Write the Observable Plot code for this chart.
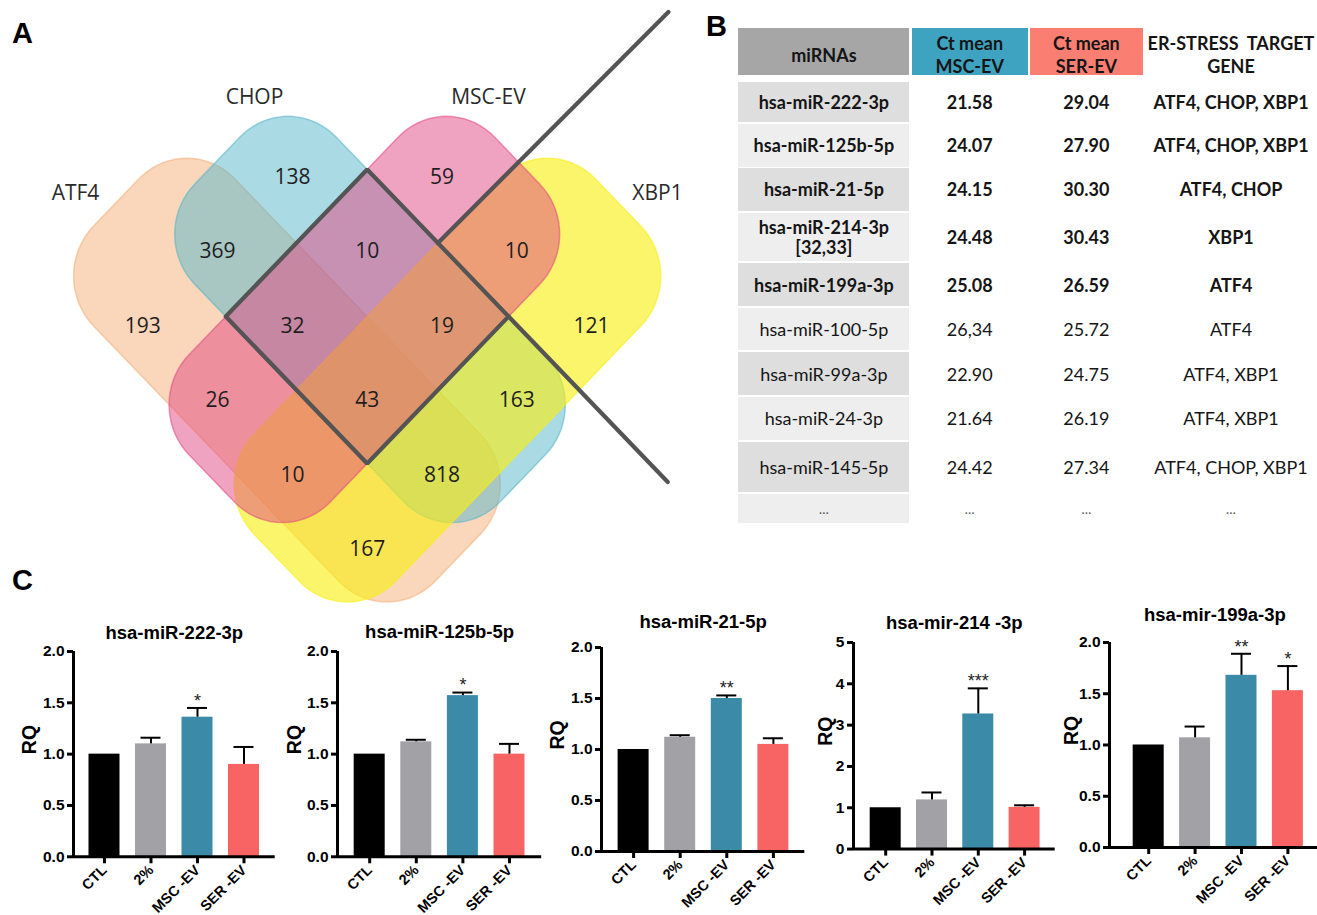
<!DOCTYPE html>
<html><head><meta charset="utf-8">
<script src="https://cdn.jsdelivr.net/npm/d3@7"></script>
<script src="https://cdn.jsdelivr.net/npm/@observablehq/plot@0.6"></script>
<style>
html,body{margin:0;padding:0;background:#fff;}
#page{position:relative;width:1317px;height:915px;overflow:hidden;background:#fff;}
.cell{position:absolute;display:flex;align-items:center;justify-content:center;text-align:center;font-family:Lato,"Open Sans",sans-serif;font-size:18px;color:#151515;box-sizing:border-box;white-space:pre;}
</style></head><body><div id="page"></div>
<script>
// ---------------- DATA ----------------
// Panel A: Venn
const vennSets = ["ATF4", "CHOP", "MSC-EV", "XBP1"];
const vennCounts = [138, 59, 369, 10, 10, 193, 32, 19, 121, 26, 43, 163, 10, 818, 167];

// Panel B: table
const headerLabels = ["miRNAs", "Ct mean\nMSC-EV", "Ct mean\nSER-EV", "ER-STRESS  TARGET\nGENE"];
const miRNAs = ["hsa-miR-222-3p", "hsa-miR-125b-5p", "hsa-miR-21-5p", "hsa-miR-214-3p\n[32,33]", "hsa-miR-199a-3p",
  "hsa-miR-100-5p", "hsa-miR-99a-3p", "hsa-miR-24-3p", "hsa-miR-145-5p", "…"];
const ctMSC = ["21.58", "24.07", "24.15", "24.48", "25.08", "26,34", "22.90", "21.64", "24.42", "…"];
const ctSER = ["29.04", "27.90", "30.30", "30.43", "26.59", "25.72", "24.75", "26.19", "27.34", "…"];
const targetGenes = ["ATF4, CHOP, XBP1", "ATF4, CHOP, XBP1", "ATF4, CHOP", "XBP1", "ATF4",
  "ATF4", "ATF4, XBP1", "ATF4, XBP1", "ATF4, CHOP, XBP1", "…"];
const boldRows = [true, true, true, true, true, false, false, false, false, false];

// Panel C: bar charts
const groups = ["CTL", "2%", "MSC -EV", "SER -EV"];
const chartTitles = ["hsa-miR-222-3p", "hsa-miR-125b-5p", "hsa-miR-21-5p", "hsa-mir-214 -3p", "hsa-mir-199a-3p"];
const rqMean = [
  [1.00, 1.10, 1.36, 0.90],
  [1.00, 1.12, 1.57, 1.00],
  [1.00, 1.12, 1.50, 1.05],
  [1.00, 1.19, 3.27, 1.01],
  [1.00, 1.07, 1.68, 1.53]
];
const rqSEM = [
  [0, 0.06, 0.09, 0.17],
  [0, 0.02, 0.03, 0.10],
  [0, 0.02, 0.03, 0.06],
  [0, 0.18, 0.62, 0.05],
  [0, 0.11, 0.21, 0.24]
];
const sigMarks = [
  ["", "", "*", ""],
  ["", "", "*", ""],
  ["", "", "**", ""],
  ["", "", "***", ""],
  ["", "", "**", "*"]
];
const yTicks = [[0, 0.5, 1, 1.5, 2], [0, 0.5, 1, 1.5, 2], [0, 0.5, 1, 1.5, 2], [0, 1, 2, 3, 4, 5], [0, 0.5, 1, 1.5, 2]];
const yMax = [2, 2, 2, 5, 2];

// ---------------- LAYOUT / STYLE ----------------
const page = document.getElementById("page");
const place = (el, left, top) => { el.style.position = "absolute"; el.style.left = left + "px"; el.style.top = top + "px"; page.appendChild(el); };

// Venn geometry (rotated frame u: down-right, v: up-right)
const SQ = Math.SQRT2, CX = 366.7, CY = 316, KY = 1.04;
const toPx = (u, v) => ({x: CX + (u + v) / SQ, y: CY + (u - v) / SQ * KY});
function roundRect(u0, u1, v0, v1, r) {
  const pts = [];
  const cs = [[u1 - r, v0 + r, -90], [u1 - r, v1 - r, 0], [u0 + r, v1 - r, 90], [u0 + r, v0 + r, 180]];
  for (const [cu, cv, a0] of cs) for (let k = 0; k <= 18; k++) {
    const a = (a0 + 90 * k / 18) * Math.PI / 180;
    pts.push(toPx(cu + r * Math.cos(a), cv + r * Math.sin(a)));
  }
  pts.push(pts[0]);
  return pts;
}
const shapeSpec = {
  "ATF4":   {u: [-255, 228], v: [-200, 0], color: "#f5ad75", op: 0.5},
  "CHOP":   {u: [-212, 220], v: [-100, 100], color: "#55b5c9", op: 0.5},
  "MSC-EV": {u: [-100, 100], v: [-220, 212], color: "#e14781", op: 0.5},
  "XBP1":   {u: [0, 200], v: [-228, 255], color: "#f8ef12", op: 0.62}
};
const drawOrder = ["ATF4", "CHOP", "XBP1", "MSC-EV"];
const cornerR = 68;
const vennGrid = [[-1,-2],[1,-2],[-2,-1],[0,-1],[2,-1],[-3,0],[-1,0],[1,0],[3,0],[-2,1],[0,1],[2,1],[-1,2],[1,2],[0,3]];
const gridOrigin = [366.7, 325.3], gridStep = [74.8, 74.5];
const vennLabelPos = [[75, 193], [254, 97], [488, 97], [657, 193]];

const vennMarks = [];
for (const s of drawOrder) {
  const sp = shapeSpec[s];
  vennMarks.push(Plot.line(roundRect(sp.u[0], sp.u[1], sp.v[0], sp.v[1], cornerR), {
    x: "x", y: "y", fill: sp.color, fillOpacity: sp.op, stroke: sp.color, strokeOpacity: 0.55, strokeWidth: 1.5
  }));
}
const diamond = [[-100,-100],[100,-100],[100,100],[-100,100],[-100,-100]].map(([u, v]) => toPx(u, v));
const cut1 = [[0, 100], [6, 420]].map(([u, v]) => toPx(u, v));
const cut2 = [[100, 100], [325, 100]].map(([u, v]) => toPx(u, v));
for (const p of [diamond, cut1, cut2]) vennMarks.push(Plot.line(p, {x: "x", y: "y", stroke: "#545454", strokeWidth: 4.2, strokeLinejoin: "miter"}));
const numRows = vennCounts.map((c, k) => ({x: gridOrigin[0] + gridStep[0] * vennGrid[k][0], y: gridOrigin[1] + gridStep[1] * vennGrid[k][1], t: String(c)}));
vennMarks.push(Plot.text(numRows, {x: "x", y: "y", text: "t", fontSize: 21, fontFamily: "Open Sans", fill: "#1e1e1e"}));
const labRows = vennSets.map((s, k) => ({x: vennLabelPos[k][0], y: vennLabelPos[k][1], t: s}));
vennMarks.push(Plot.text(labRows, {x: "x", y: "y", text: "t", fontSize: 21, fontFamily: "Open Sans", fill: "#2a2a2a"}));

const venn = Plot.plot({
  width: 700, height: 615, margin: 0,
  x: {domain: [0, 700], range: [0, 700], axis: null},
  y: {domain: [0, 615], range: [0, 615], axis: null},
  style: {background: "transparent", overflow: "visible"},
  marks: vennMarks
});
place(venn, 0, 0);

// ---------------- TABLE ----------------
const colX = [[738.3, 909.5], [911.5, 1028], [1030, 1142.7], [1145, 1317]];
const headerBg = ["#a6a6a6", "#3ea3c0", "#fa7f72", "transparent"];
const headerTop = 28.3, headerH = 47;
const rowTop = [81.7, 124, 168.3, 212.7, 263.3, 307.7, 352.3, 396.7, 442.3, 494];
const rowH = [40, 42.7, 42.4, 48.3, 42.7, 42.3, 42.7, 43.3, 49.4, 29.3];
function cell(text, c, top, h, bg, bold, lh) {
  const d = document.createElement("div");
  d.className = "cell";
  d.textContent = text;
  d.style.width = (colX[c][1] - colX[c][0]) + "px";
  d.style.height = h + "px";
  d.style.background = bg;
  d.style.fontWeight = bold ? "700" : "400";
  d.style.lineHeight = lh + "px";
  place(d, colX[c][0], top);
  return d;
}
headerLabels.forEach((t, c) => { const d = cell(t, c, headerTop, headerH, headerBg[c], true, 23); d.style.paddingTop = "7px"; });
const cols = [miRNAs, ctMSC, ctSER, targetGenes];
rowTop.forEach((top, r) => {
  cols.forEach((arr, c) => {
    const bg = c === 0 ? (r % 2 === 0 ? "#dedede" : "#eeeeee") : "transparent";
    const d = cell(arr[r], c, top, rowH[r], bg, boldRows[r], 20);
    if (arr[r] === "…") { d.style.fontSize = "13px"; d.style.color = "#555"; }
  });
});

// ---------------- BAR CHARTS ----------------
const barColors = ["#000000", "#a2a2a6", "#3a8aa8", "#f86464"];
const chartLayout = [
  {L: 73.3, R: 275, T: 650.7, B: 856, c0: 104.3, s: 46.5, rqX: 30, titleY: 638},
  {L: 336.8, R: 541, T: 650.7, B: 856, c0: 369, s: 46.6, rqX: 294, titleY: 637},
  {L: 600.7, R: 804, T: 646.7, B: 850.7, c0: 632.8, s: 46.6, rqX: 557, titleY: 627},
  {L: 853.3, R: 1055, T: 641.7, B: 848.3, c0: 885.5, s: 46.3, rqX: 826, titleY: 628},
  {L: 1109.3, R: 1320, T: 642.3, B: 847.3, c0: 1148.5, s: 46.4, rqX: 1072, titleY: 621}
];
const mL = 70, mR = 14, mT = 45, mB = 75;
chartLayout.forEach((lay, k) => {
  const {L, R, T, B, c0, s, rqX, titleY} = lay;
  const x0 = (L - c0) / s, x1 = (R - c0) / s;
  const hw = 15.5 / s, cap = 10 / s;
  const rows = groups.map((g, i) => ({i, g, mean: rqMean[k][i], sem: rqSEM[k][i], sig: sigMarks[k][i], fill: barColors[i]}));
  const errRows = rows.filter(d => d.sem > 0);
  const sigRows = rows.filter(d => d.sig);
  const fmt = yMax[k] === 5 ? (d => String(d)) : (d => d.toFixed(1));
  const W = mL + (R - L) + mR, H = mT + (B - T) + mB;
  const chart = Plot.plot({
    width: W, height: H, marginLeft: mL, marginRight: mR, marginTop: mT, marginBottom: mB,
    x: {domain: [x0, x1], axis: null, label: null},
    y: {domain: [0, yMax[k]], axis: null, label: null},
    color: {type: "identity"},
    style: {fontFamily: "Arial, 'Liberation Sans', sans-serif", fontWeight: "bold", background: "transparent", overflow: "visible", color: "#000"},
    marks: [
      Plot.rect(rows, {x1: d => d.i - hw, x2: d => d.i + hw, y1: 0, y2: d => d.mean, fill: d => d.fill}),
      Plot.ruleX(errRows, {x: d => d.i, y1: d => d.mean, y2: d => d.mean + d.sem, strokeWidth: 2}),
      Plot.ruleY(errRows, {y: d => d.mean + d.sem, x1: d => d.i - cap, x2: d => d.i + cap, strokeWidth: 2}),
      Plot.text(sigRows, {x: d => d.i, y: d => d.mean + d.sem, text: d => d.sig, dy: -7, fontSize: 18, fontWeight: "normal", fill: "#222"}),
      Plot.ruleY([0], {strokeWidth: 3}),
      Plot.ruleX([x0], {y1: 0, y2: yMax[k], strokeWidth: 3}),
      Plot.axisY({ticks: yTicks[k], tickFormat: fmt, tickSize: 6, tickPadding: 3, strokeWidth: 3, fontSize: 15.5, label: null}),
      Plot.axisX({ticks: [0, 1, 2, 3], tickFormat: d => groups[d], tickSize: 7, tickPadding: 4, strokeWidth: 3, tickRotate: -45, fontSize: 14.5, label: null}),
      Plot.text([chartTitles[k]], {frameAnchor: "top", lineAnchor: "bottom", dy: titleY - T, fontSize: 18.5}),
      Plot.text(["RQ"], {frameAnchor: "left", rotate: -90, dx: rqX - L, fontSize: 19.5})
    ]
  });
  place(chart, L - mL, T - mT);
});

// ---------------- PANEL LETTERS ----------------
const svg = d3.create("svg").attr("width", 1317).attr("height", 915).style("position", "absolute").style("left", 0).style("top", 0).style("pointer-events", "none");
[["A", 12, 43], ["B", 706, 36], ["C", 12, 590]].forEach(([t, x, y]) =>
  svg.append("text").attr("x", x).attr("y", y).attr("font-family", "Arial, 'Liberation Sans', sans-serif").attr("font-weight", "bold").attr("font-size", 29).text(t));
page.appendChild(svg.node());
</script></body></html>
